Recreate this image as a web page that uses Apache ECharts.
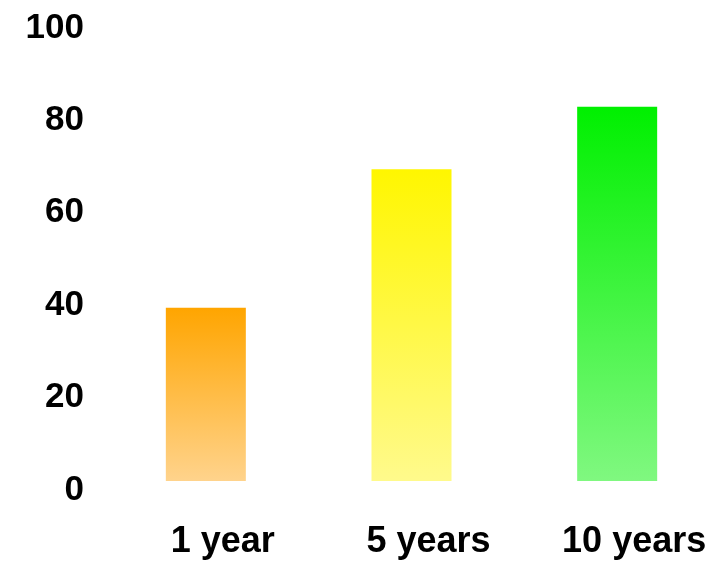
<!DOCTYPE html>
<html>
<head>
<meta charset="utf-8">
<script src="https://cdn.jsdelivr.net/npm/echarts@6/dist/echarts.min.js"></script>
<style>
    html, body { margin: 0; padding: 0; background: #fff; }
    #chart { width: 723px; height: 562px; }
</style>
</head>
<body>
<div id="chart"></div>
<script>
var categories = ['1 year', '5 years', '10 years'];
var values = [37.5, 67.5, 81];
var top_colors = ['#FFA500', '#FFF600', '#00F000'];    // 柱顶颜色
var bottom_colors = ['#FFD38C', '#FFFA8C', '#80F880']; // 柱底颜色

var chart = echarts.init(document.getElementById('chart'));

var bar_data = [];
for (var i = 0; i < values.length; i++) {
    bar_data.push({
        value: values[i],
        itemStyle: {
            color: new echarts.graphic.LinearGradient(0, 0, 0, 1, [
                { offset: 0, color: top_colors[i] },
                { offset: 1, color: bottom_colors[i] }
            ])
        }
    });
}

var label_font = {
    color: '#000',
    fontFamily: 'Liberation Sans',
    fontWeight: 'bold',
    fontSize: 35
};

var option = {
    animation: false,
    grid: { left: 103, right: 3, top: 19, bottom: 81 },
    xAxis: {
        type: 'category',
        data: categories,
        axisLine: { show: false },
        axisTick: { show: false },
        axisLabel: Object.assign({}, label_font, { fontSize: 36, margin: 43, padding: [0, 0, 0, 34] })
    },
    yAxis: {
        type: 'value',
        min: 0,
        max: 100,
        interval: 20,
        splitLine: { show: false },
        axisLine: { show: false },
        axisTick: { show: false },
        axisLabel: Object.assign({ margin: 19, verticalAlign: 'top', lineHeight: 18 }, label_font)
    },
    series: [{
        type: 'bar',
        barWidth: 80,
        data: bar_data
    }]
};
chart.setOption(option);
</script>
</body>
</html>
